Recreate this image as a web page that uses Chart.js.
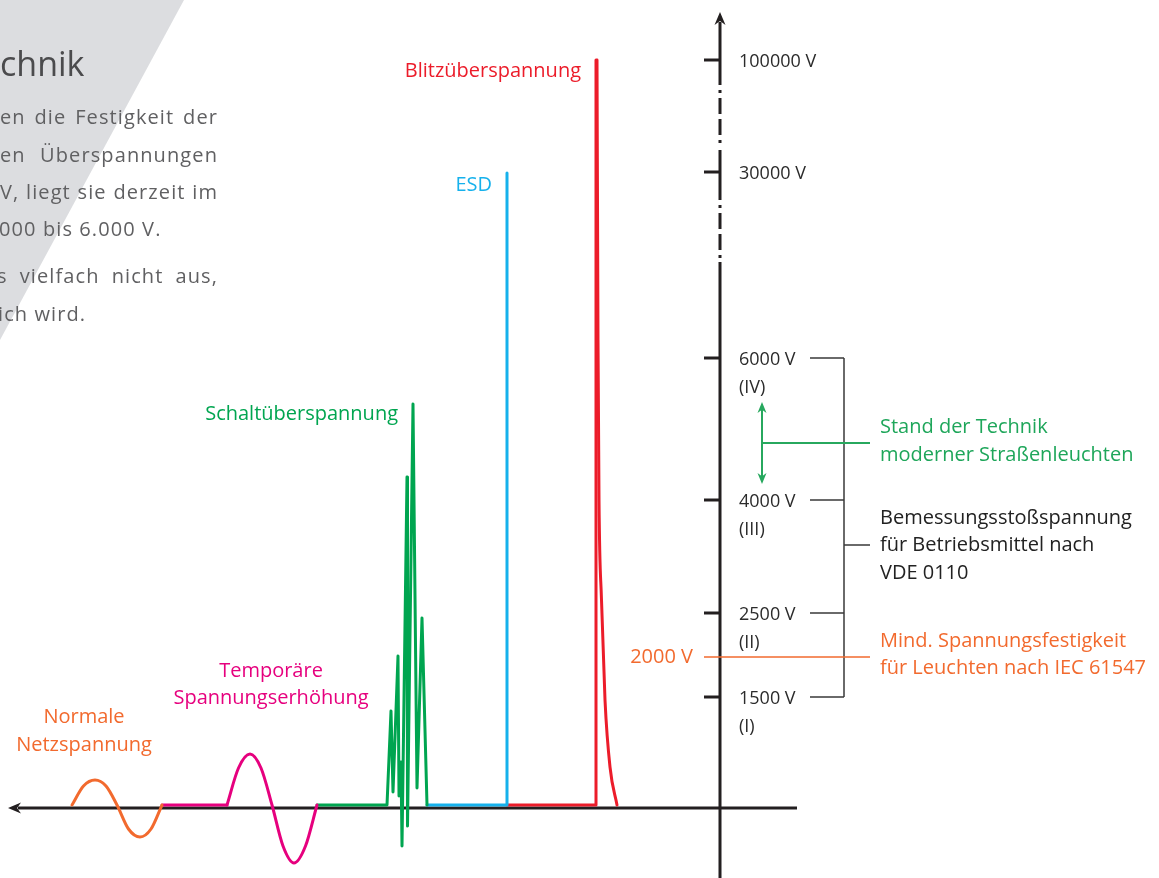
<!DOCTYPE html>
<html>
<head>
<meta charset="utf-8">
<script src="https://cdn.jsdelivr.net/npm/chart.js@4.4.0/dist/chart.umd.min.js"></script>
<style>
  html, body { margin: 0; padding: 0; background: #fff; }
  #wrap { width: 1159px; height: 878px; }
</style>
</head>
<body>
<div id="wrap"><canvas id="surgeChart" width="1159" height="878"></canvas></div>
<script>
// Waveforms: x = position along the time axis, y = height above the baseline (diagram units)
const netzX = [72, 83.5, 95, 106, 117, 128.5, 140, 151, 162];
const netzY = [3, 22, 28, 22, 3, -21, -29, -21, 3];

const tempFlatX = [162, 227];
const tempFlatY = [3, 3];
const tempX = [227, 238.5, 250, 261, 272, 283, 294, 305.5, 317];
const tempY = [3, 40, 54, 40, 3, -38, -55, -38, 3];

const schaltX = [317, 387, 391, 393, 398, 399, 401, 402, 407, 407.5, 413, 417, 422, 427];
const schaltY = [3, 3, 97, 16, 152, 12, 46, -38, 331, -18, 404, 20, 190, 3];

const esdX = [427, 507, 507];
const esdY = [3, 3, 635];

const blitzX = [507, 596, 596];
const blitzY = [3, 3, 748];
const blitzDecayX = [597, 598, 599, 601.5, 605, 610, 617];
const blitzDecayY = [748, 468, 308, 208, 108, 41, 3];

// Voltage axis (broken scale): tick label, class, height
const tickLabels = ['100000 V', '30000 V', '6000 V', '4000 V', '2500 V', '1500 V'];
const tickClasses = ['', '', '(IV)', '(III)', '(II)', '(I)'];
const tickHeights = [748, 636, 450, 308, 195, 111];
const minLevelLabel = '2000 V';
const minLevelHeight = 151;

const ORANGE = '#f26a2e';
const PINK = '#e6007e';
const GREEN = '#00a550';
const BLUE = '#16b1ec';
const RED = '#ec1c2a';
const DARK = '#2b2b2b';
const FONT = '"Open Sans", sans-serif';

function pts(xs, ys) {
    return xs.map((v, i) => ({ x: v, y: ys[i] }));
}

function justify(ctx, text, left, right, yPix) {
    const words = text.split(' ');
    const widths = words.map(w => ctx.measureText(w).width);
    const total = widths.reduce((a, b) => a + b, 0);
    const gap = (right - left - total) / (words.length - 1);
    let cx = left;
    words.forEach((w, i) => {
        ctx.fillText(w, cx, yPix);
        cx += widths[i] + gap;
    });
}

function arrowHead(ctx, tipX, tipY, dx, dy, len, half) {
    // dx,dy: unit direction the arrow points to
    const bx = tipX - dx * len, by = tipY - dy * len;
    const nx = -dy, ny = dx;
    ctx.beginPath();
    ctx.moveTo(tipX, tipY);
    ctx.lineTo(bx + nx * half, by + ny * half);
    ctx.lineTo(tipX - dx * len * 0.7, tipY - dy * len * 0.7);
    ctx.lineTo(bx - nx * half, by - ny * half);
    ctx.closePath();
    ctx.fill();
}

const diagramPlugin = {
    id: 'diagram',
    beforeDraw(chart) {
        const { ctx, scales: { x, y } } = chart;
        const X = v => x.getPixelForValue(v);
        const Y = v => y.getPixelForValue(v);
        ctx.save();
        // grey corner panel
        ctx.fillStyle = '#dcdde0';
        ctx.beginPath();
        ctx.moveTo(X(0), Y(808));
        ctx.lineTo(X(184), Y(808));
        ctx.lineTo(X(0), Y(468));
        ctx.closePath();
        ctx.fill();

        // intro text (cut off at the left edge)
        ctx.fillStyle = '#4b4b4d';
        ctx.font = '34px ' + FONT;
        ctx.textAlign = 'left';
        ctx.textBaseline = 'alphabetic';
        ctx.fillText('chnik', 0, 76);

        ctx.fillStyle = '#606062';
        ctx.font = '20px ' + FONT;
        ctx.letterSpacing = '1.1px';
        justify(ctx, 'en die Festigkeit der', 0, 218, 124);
        justify(ctx, 'en Überspannungen', 0, 218, 162);
        justify(ctx, 'V, liegt sie derzeit im', 0, 218, 199);
        ctx.fillText('000 bis 6.000 V.', -1, 236);
        justify(ctx, 's vielfach nicht aus,', -3, 218, 283);
        ctx.fillText('ich wird.', -2, 321);
        ctx.letterSpacing = '0px';
        ctx.restore();
    },
    beforeDatasetsDraw(chart) {
        const { ctx, scales: { x, y } } = chart;
        const X = v => x.getPixelForValue(v);
        const Y = v => y.getPixelForValue(v);
        ctx.save();
        ctx.strokeStyle = '#231f20';
        ctx.fillStyle = '#231f20';
        ctx.lineWidth = 3;

        // time axis
        ctx.beginPath();
        ctx.moveTo(X(18), Y(0));
        ctx.lineTo(X(797), Y(0));
        ctx.stroke();
        arrowHead(ctx, X(8), Y(0), -1, 0, 13, 5.5);

        // voltage axis with two breaks
        const ax = X(720);
        const solid = [[-70, 546], [608, 658], [723, 786]];
        solid.forEach(([a, b]) => {
            ctx.beginPath();
            ctx.moveTo(ax, Y(a));
            ctx.lineTo(ax, Y(b));
            ctx.stroke();
        });
        ctx.setLineDash([3, 5, 16, 5, 16, 5, 3, 8]);
        [[723, 658], [608, 546]].forEach(([a, b]) => {
            ctx.beginPath();
            ctx.moveTo(ax, Y(a) + 5);
            ctx.lineTo(ax, Y(b));
            ctx.stroke();
        });
        ctx.setLineDash([]);
        arrowHead(ctx, ax, Y(796), 0, -1, 13, 5.5);

        // ticks
        tickHeights.forEach(h => {
            ctx.beginPath();
            ctx.moveTo(X(704), Y(h));
            ctx.lineTo(ax, Y(h));
            ctx.stroke();
        });
        ctx.restore();
    },
    afterDatasetsDraw(chart) {
        const { ctx, scales: { x, y } } = chart;
        const X = v => x.getPixelForValue(v);
        const Y = v => y.getPixelForValue(v);
        ctx.save();

        // tick labels
        ctx.fillStyle = DARK;
        ctx.font = '18px ' + FONT;
        ctx.textAlign = 'left';
        ctx.textBaseline = 'middle';
        tickLabels.forEach((t, i) => {
            ctx.fillText(t, X(739), Y(tickHeights[i]) + 2);
            if (tickClasses[i]) ctx.fillText(tickClasses[i], X(739), Y(tickHeights[i]) + 30);
        });

        // bracket for the rated impulse voltages
        ctx.strokeStyle = '#3a3a3a';
        ctx.lineWidth = 1.5;
        ctx.beginPath();
        tickHeights.slice(2).forEach(h => {
            ctx.moveTo(X(810), Y(h));
            ctx.lineTo(X(844), Y(h));
        });
        ctx.moveTo(X(844), Y(tickHeights[2]));
        ctx.lineTo(X(844), Y(tickHeights[5]));
        ctx.moveTo(X(844), Y(263));
        ctx.lineTo(X(870), Y(263));
        ctx.stroke();

        // state of the art: double arrow between 4000 V and 6000 V
        ctx.strokeStyle = '#27a85e';
        ctx.fillStyle = '#27a85e';
        ctx.lineWidth = 2;
        ctx.beginPath();
        ctx.moveTo(X(762), Y(400));
        ctx.lineTo(X(762), Y(330));
        ctx.moveTo(X(762), Y(365));
        ctx.lineTo(X(870), Y(365));
        ctx.stroke();
        arrowHead(ctx, X(762), Y(406), 0, -1, 11, 4.5);
        arrowHead(ctx, X(762), Y(324), 0, 1, 11, 4.5);

        // minimum level line
        ctx.strokeStyle = ORANGE;
        ctx.lineWidth = 1.5;
        ctx.beginPath();
        ctx.moveTo(X(704), Y(minLevelHeight));
        ctx.lineTo(X(870), Y(minLevelHeight));
        ctx.stroke();

        ctx.font = '20px ' + FONT;
        ctx.textBaseline = 'middle';
        ctx.textAlign = 'right';
        ctx.fillStyle = ORANGE;
        ctx.fillText(minLevelLabel, X(693), Y(minLevelHeight));

        ctx.textAlign = 'left';
        ctx.fillText('Mind. Spannungsfestigkeit', X(880), Y(167));
        ctx.fillText('für Leuchten nach IEC 61547', X(880), Y(140));
        ctx.fillStyle = '#1ea65a';
        ctx.fillText('Stand der Technik', X(880), Y(381));
        ctx.fillText('moderner Straßenleuchten', X(880), Y(353));
        ctx.fillStyle = '#222';
        ctx.fillText('Bemessungsstoßspannung', X(880), Y(290));
        ctx.fillText('für Betriebsmittel nach', X(880), Y(263));
        ctx.fillText('VDE 0110', X(880), Y(235));

        // waveform labels
        ctx.textAlign = 'center';
        ctx.fillStyle = ORANGE;
        ctx.fillText('Normale', X(84), Y(91));
        ctx.fillText('Netzspannung', X(84), Y(63));
        ctx.fillStyle = PINK;
        ctx.fillText('Temporäre', X(271), Y(137));
        ctx.fillText('Spannungserhöhung', X(271), Y(110));
        ctx.textAlign = 'right';
        ctx.fillStyle = GREEN;
        ctx.fillText('Schaltüberspannung', X(398), Y(394));
        ctx.fillStyle = BLUE;
        ctx.fillText('ESD', X(492), Y(623));
        ctx.fillStyle = RED;
        ctx.fillText('Blitzüberspannung', X(581), Y(737));
        ctx.restore();
    }
};

const smooth = { cubicInterpolationMode: 'monotone' };

new Chart(document.getElementById('surgeChart'), {
    type: 'line',
    data: {
        datasets: [
            { label: 'Normale Netzspannung', data: pts(netzX, netzY), borderColor: ORANGE, ...smooth },
            { label: 'Temporäre Spannungserhöhung', data: pts(tempFlatX, tempFlatY), borderColor: PINK },
            { label: 'Temporäre Spannungserhöhung ', data: pts(tempX, tempY), borderColor: PINK, ...smooth },
            { label: 'Schaltüberspannung', data: pts(schaltX, schaltY), borderColor: GREEN },
            { label: 'ESD', data: pts(esdX, esdY), borderColor: BLUE },
            { label: 'Blitzüberspannung', data: pts(blitzX, blitzY), borderColor: RED },
            { label: 'Blitzüberspannung ', data: pts(blitzDecayX, blitzDecayY), borderColor: RED, ...smooth }
        ]
    },
    options: {
        responsive: false,
        animation: false,
        devicePixelRatio: 1,
        layout: { padding: 0 },
        scales: {
            x: { type: 'linear', min: 0, max: 1159, display: false },
            y: { type: 'linear', min: -70, max: 808, display: false }
        },
        plugins: {
            legend: { display: false },
            tooltip: { enabled: false }
        },
        elements: {
            point: { radius: 0, hoverRadius: 0 },
            line: { borderWidth: 3, tension: 0, borderJoinStyle: 'round', borderCapStyle: 'round', fill: false }
        }
    },
    plugins: [diagramPlugin]
});
</script>
</body>
</html>
